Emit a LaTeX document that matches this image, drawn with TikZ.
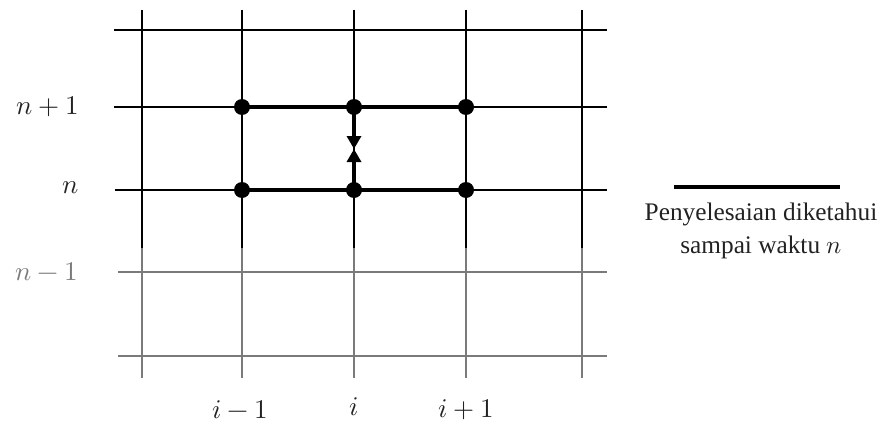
\documentclass[tikz,border=0pt]{standalone}
\usepackage{fontspec}
\usepackage{unicode-math}
\setmathfont{Latin Modern Math}
\newfontfamily\legendfont{Liberation Serif}
\usetikzlibrary{arrows.meta}
\definecolor{gridgray}{HTML}{7A7A7A}
\definecolor{labdark}{HTML}{222222}
\tikzset{
  blk/.style={line width=1.8pt, black},
  gry/.style={line width=1.8pt, gridgray},
  thick line/.style={line width=4.2pt, black},
  dotnode/.style={circle, fill=black, inner sep=0pt, minimum size=16pt},
  lab/.style={font=\fontsize{27}{32}\selectfont, text=labdark, inner sep=0pt},
  glab/.style={font=\fontsize{27}{32}\selectfont, text=gridgray, inner sep=0pt},
  legtext/.style={font=\legendfont\fontsize{25.3}{33}\selectfont, text=labdark, align=center, inner sep=0pt},
  arr/.style={line width=4.2pt, -{Triangle[width=14pt,length=13pt]}}
}
\begin{document}
\begin{tikzpicture}[x=1pt,y=-1pt]
\useasboundingbox (0,0) rectangle (883,428);
% horizontal lines
\draw[blk] (114,30) -- (607,30);
\draw[blk] (114,107) -- (607,107);
\draw[blk] (115,190) -- (607,190);
\draw[gry] (118,272) -- (607,272);
\draw[gry] (118,356) -- (607,356);
% vertical lines
\foreach \x in {142,242,354,466,582}{
  \draw[blk] (\x,10) -- (\x,248);
  \draw[gry] (\x,248) -- (\x,378);
}
% grid points
\node[dotnode] (a1) at (242,107) {};
\node[dotnode] (a2) at (354,107) {};
\node[dotnode] (a3) at (466,107) {};
\node[dotnode] (b1) at (242,190) {};
\node[dotnode] (b2) at (354,190) {};
\node[dotnode] (b3) at (466,190) {};
\coordinate (mtop) at (354,149);
\coordinate (mbot) at (354,149);
\draw[thick line] (a1.center) -- (a3.center);
\draw[thick line] (b1.center) -- (b3.center);
\draw[arr] (a2.center) -- (mtop);
\draw[arr] (b2.center) -- (mbot);
% labels
\node[lab, anchor=east] (ln1) at (79,107) {$n+1$};
\node[lab, anchor=east] (ln) at (79,188) {$n$};
\node[glab, anchor=east] (lnm) at (78,272) {$n-1$};
\node[lab] (li1) at (240,410) {$i-1$};
\node[lab] (li) at (354,407) {$i$};
\node[lab] (li2) at (466,410) {$i+1$};
% legend
\coordinate (lg1) at (674,187);
\coordinate (lg2) at (840,187);
\draw[thick line] (lg1) -- (lg2);
\node[legtext] (lt) at (761,231) {Penyelesaian diketahui\\sampai waktu $n$};
\end{tikzpicture}
\end{document}
